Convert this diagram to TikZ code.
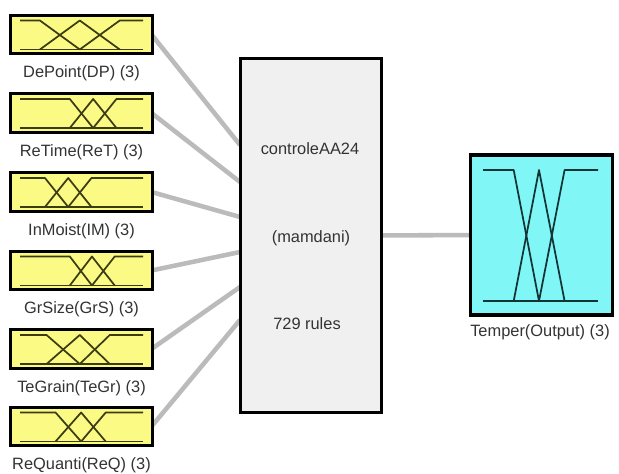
\documentclass[tikz,border=0pt]{standalone}
\usepackage{fontspec}
\setmainfont{Liberation Sans}
\pgfdeclarelayer{background}
\pgfsetlayers{background,main}
\definecolor{infill}{HTML}{FAFA84}
\definecolor{outfill}{HTML}{80F6F6}
\definecolor{ctrlfill}{HTML}{F0F0F0}
\definecolor{mfin}{HTML}{3C3C14}
\definecolor{mfout}{HTML}{123434}
\definecolor{conncol}{HTML}{BBBBBB}
\definecolor{txtcol}{HTML}{333333}
\tikzset{
  inbox/.style={draw=black, line width=2.4pt, fill=infill, minimum width=106pt, minimum height=29pt, inner sep=0pt},
  ctrlbox/.style={draw=black, line width=2.4pt, fill=ctrlfill, minimum width=106pt, minimum height=266pt, inner sep=0pt},
  outbox/.style={draw=black, line width=2.4pt, fill=outfill, minimum width=107pt, minimum height=120pt, inner sep=0pt},
  lbl/.style={text=txtcol, font=\fontsize{12.3}{14}\selectfont, inner sep=0pt},
  conn/.style={draw=conncol, line width=3.4pt},
  mfline/.style={draw=mfin, line width=1.3pt, line join=round},
  mfoline/.style={draw=mfout, line width=1.3pt, line join=round}
}
\begin{document}
\begin{tikzpicture}[x=0.75pt, y=-0.75pt]
\useasboundingbox (0,0) rectangle (619,474);
% input boxes
\foreach \i/\cy/\lab/\fa/\fb/\fc in {
  1/34.5/{DePoint(DP) (3)}/0.162/0.486/0.811,
  2/113/{ReTime(ReT) (3)}/0.405/0.595/0.784,
  3/192/{InMoist(IM) (3)}/0.203/0.392/0.581,
  4/270.5/{GrSize(GrS) (3)}/0.405/0.585/0.770,
  5/349/{TeGrain(TeGr) (3)}/0.216/0.486/0.730,
  6/426.5/{ReQuanti(ReQ) (3)}/0.289/0.497/0.697} {
  \node[inbox] (in\i) at (81.5,\cy) {};
  \node[lbl] (l\i) at (81.5,\cy+39) {\lab};
  \pgfmathsetmacro{\xa}{20+123*\fa}
  \pgfmathsetmacro{\xb}{20+123*\fb}
  \pgfmathsetmacro{\xc}{20+123*\fc}
  \draw[mfline] (20,\cy+15) -- (143,\cy+15);
  \draw[mfline] (20,\cy-14) -- (\xa,\cy-14) -- (\xb,\cy+15);
  \draw[mfline] (\xa,\cy+15) -- (\xb,\cy-14) -- (\xc,\cy+15);
  \draw[mfline] (\xb,\cy+15) -- (\xc,\cy-14) -- (143,\cy-14);
}
% central box
\node[ctrlbox] (ctrl) at (311,235.5) {};
\node[lbl] (t1) at (310,149) {controleAA24};
\node[lbl] (t2) at (311,238) {(mamdani)};
\node[lbl] (t3) at (307,324) {729 rules};
% output box
\node[outbox] (out) at (541.5,235) {};
\node[lbl] (lo) at (540,332) {Temper(Output) (3)};
\draw[mfoline] (483,301) -- (598,301);
\draw[mfoline] (483,170) -- (513.7,170) -- (539,301);
\draw[mfoline] (513.7,301) -- (539,170) -- (564.6,301);
\draw[mfoline] (539,301) -- (564.6,170) -- (598,170);
% connectors
\coordinate (p1) at (240,145);
\coordinate (p2) at (240,182);
\coordinate (p3) at (240,217);
\coordinate (p4) at (240,252);
\coordinate (p5) at (240,287);
\coordinate (p6) at (240,320);
\begin{pgfonlayer}{background}
\fill[white] (0,0) rectangle (619,474);
\foreach \i in {1,...,6} {
  \draw[conn] (in\i.center) ++(70,0) -- (p\i);
}
\draw[conn] (ctrl.center) -- (out.center);
\end{pgfonlayer}
\end{tikzpicture}
\end{document}
